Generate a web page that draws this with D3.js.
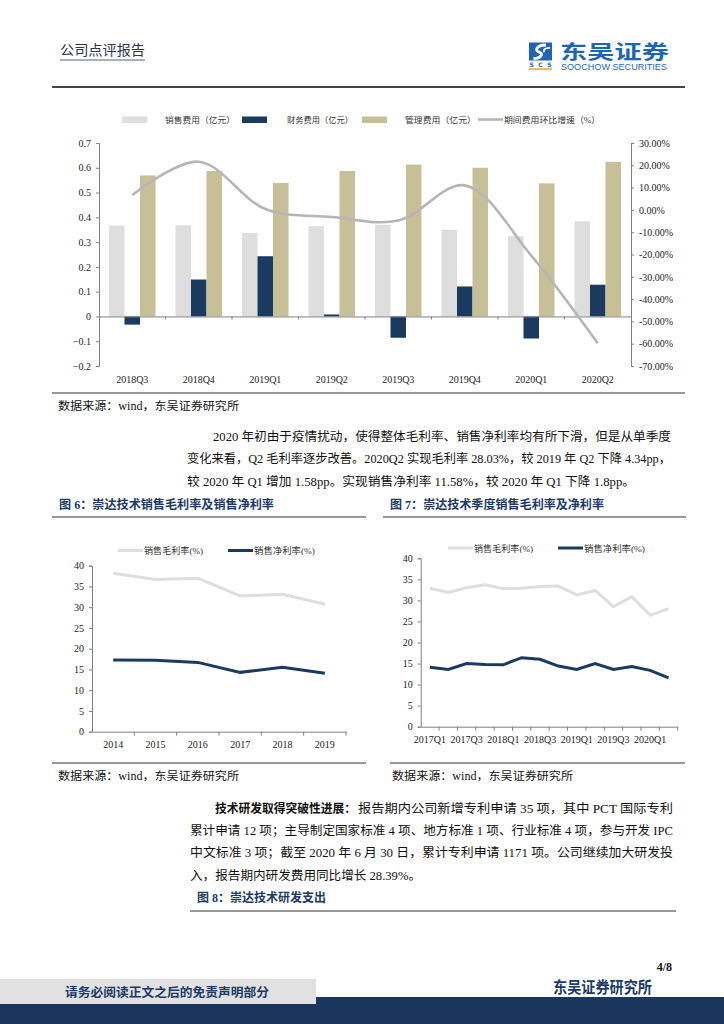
<!DOCTYPE html>
<html>
<head>
<meta charset="utf-8">
<script src="https://cdn.jsdelivr.net/npm/d3@7"></script>
<style>
  html, body { margin: 0; padding: 0; background: #fff; }
  svg { display: block; }
  text { font-family: "Liberation Serif", "Noto Sans CJK SC", serif; }
  .axis path, .axis line { stroke: #808080; }
  .axis text { font-size: 10px; fill: #222; }
</style>
</head>
<body>
<svg id="page" width="724" height="1024"></svg>
<script>
/* ---------------- DATA ---------------- */
const quarters8 = ["2018Q3", "2018Q4", "2019Q1", "2019Q2", "2019Q3", "2019Q4", "2020Q1", "2020Q2"];
const salesExp = [0.367, 0.368, 0.337, 0.364, 0.370, 0.350, 0.324, 0.384];
const financeExp = [-0.033, 0.149, 0.243, 0.008, -0.086, 0.121, -0.089, 0.128];
const adminExp = [0.569, 0.587, 0.539, 0.587, 0.613, 0.600, 0.537, 0.624];
const expenseQoq = [6.7, 21.6, 0.4, -3.2, -4.8, 11.0, -20.5, -59.8];
const leftTicks = [0.7, 0.6, 0.5, 0.4, 0.3, 0.2, 0.1, 0, -0.1, -0.2];
const rightTicks = [30, 20, 10, 0, -10, -20, -30, -40, -50, -60, -70];

const years = ["2014", "2015", "2016", "2017", "2018", "2019"];
const yearGross = [38.2, 36.7, 37.0, 32.7, 33.1, 30.7];
const yearNet = [17.3, 17.2, 16.7, 14.3, 15.5, 14.1];

const quarters14 = ["2017Q1", "2017Q2", "2017Q3", "2017Q4", "2018Q1", "2018Q2", "2018Q3",
  "2018Q4", "2019Q1", "2019Q2", "2019Q3", "2019Q4", "2020Q1", "2020Q2"];
const quarterGross = [32.9, 31.9, 33.0, 33.7, 32.8, 32.9, 33.3, 33.4, 31.3, 32.37, 28.5, 30.9, 26.45, 28.03];
const quarterNet = [14.1, 13.6, 15.0, 14.8, 14.7, 16.4, 16.0, 14.4, 13.6, 15.0, 13.6, 14.3, 13.38, 11.58];
const marginTicks = [0, 5, 10, 15, 20, 25, 30, 35, 40];

/* ---------------- COLOURS ---------------- */
const C_LIGHT = "#dedede";
const C_NAVY = "#1b3a5f";
const C_TAN = "#c6bf98";
const C_LINE = "#b6b6b6";
const C_HEAD = "#1c3a66";
const C_LOGO = "#1f65b3";

const svg = d3.select("#page");

/* helper: a line of text, optionally stretched to a width */
function txt(x, y, s, o = {}) {
  const t = svg.append("text")
    .attr("x", x).attr("y", y)
    .attr("font-size", o.size || 12.5)
    .attr("fill", o.fill || "#111")
    .attr("font-weight", o.weight || "normal")
    .attr("text-anchor", o.anchor || "start")
    .text(s);
  if (o.width) t.attr("textLength", o.width).attr("lengthAdjust", "spacingAndGlyphs");
  if (o.family) t.style("font-family", o.family);
  return t;
}
function rule(x1, x2, y, w = 1.2, c = "#333") {
  svg.append("line").attr("x1", x1).attr("x2", x2).attr("y1", y).attr("y2", y)
    .attr("stroke", c).attr("stroke-width", w);
}

/* ---------------- HEADER ---------------- */
txt(60, 55, "公司点评报告", { size: 13.5, fill: "#2a3550", width: 85 });
rule(60, 145, 60, 0.8, "#2a3550");

// logo
const logo = svg.append("g").attr("transform", "translate(529,42.5)");
logo.append("rect").attr("width", 23).attr("height", 18).attr("fill", C_LOGO);
logo.append("path").attr("d", "M17,2.5 C8,2.5 5,8 10,9.5 C15,11 12,16 4.5,16")
  .attr("fill", "none").attr("stroke", "#fff").attr("stroke-width", 2.8);
logo.append("path").attr("d", "M21,5.5 C16,5 13.5,8 15.5,9.5")
  .attr("fill", "none").attr("stroke", "#fff").attr("stroke-width", 1.8);
logo.append("text").attr("x", 11.5).attr("y", 24.5).attr("text-anchor", "middle")
  .attr("font-size", 6).attr("font-weight", "bold").attr("fill", C_LOGO)
  .style("font-family", "DejaVu Sans").attr("textLength", 22).text("SCS");
logo.append("rect").attr("y", 25.8).attr("width", 23).attr("height", 1.5).attr("fill", "#f0a030");
txt(560, 58.5, "东吴证券", { size: 19, weight: "bold", fill: C_LOGO, width: 109, family: "Noto Sans CJK SC" });
txt(561, 70, "SOOCHOW SECURITIES", { size: 8.6, fill: C_LOGO, width: 106, family: "Liberation Sans" });

rule(52, 685, 87, 2, "#444");

/* ---------------- CHART 1: EXPENSES ---------------- */
const x1 = d3.scaleBand().domain(quarters8).range([99, 631]);
const inner = d3.scaleBand().domain(["s", "f", "a"]).range([10, x1.bandwidth() - 10]);
const yL = d3.scaleLinear().domain([-0.2, 0.7]).range([366, 143]);
const yR = d3.scaleLinear().domain([-70, 30]).range([366, 143]);

// legend
const lg = svg.append("g").attr("font-size", 8.5);
const legendItems = [
  { kind: "rect", c: C_LIGHT, x: 122, tx: 165, label: "销售费用（亿元）", w: 70 },
  { kind: "rect", c: C_NAVY, x: 242, tx: 287, label: "财务费用（亿元）", w: 66 },
  { kind: "rect", c: C_TAN, x: 362, tx: 405, label: "管理费用（亿元）", w: 71 },
  { kind: "line", c: C_LINE, x: 478, tx: 504, label: "期间费用环比增速（%）", w: 96 }
];
legendItems.forEach(d => {
  if (d.kind === "rect") {
    lg.append("rect").attr("x", d.x).attr("y", 116.5).attr("width", 25).attr("height", 6.5).attr("fill", d.c);
  } else {
    lg.append("line").attr("x1", d.x).attr("x2", d.x + 25).attr("y1", 119.5).attr("y2", 119.5)
      .attr("stroke", d.c).attr("stroke-width", 2.6);
  }
  lg.append("text").attr("x", d.tx).attr("y", 122.5).attr("fill", "#333")
    .attr("textLength", d.w).attr("lengthAdjust", "spacingAndGlyphs").text(d.label);
});

// axes
svg.append("g").attr("class", "axis").attr("transform", "translate(99,0)")
  .call(d3.axisLeft(yL).tickValues(leftTicks).tickSize(3).tickPadding(5)
    .tickFormat(d => d === 0 ? "0" : d3.format(".1f")(d)));
svg.append("g").attr("class", "axis").attr("transform", "translate(631,0)")
  .call(d3.axisRight(yR).tickValues(rightTicks).tickSize(3).tickPadding(5)
    .tickFormat(d => d.toFixed(2) + "%"));

// bars
const bars = svg.append("g");
const series = [
  { key: "s", vals: salesExp, c: C_LIGHT },
  { key: "f", vals: financeExp, c: C_NAVY },
  { key: "a", vals: adminExp, c: C_TAN }
];
series.forEach(s => {
  bars.selectAll(null).data(quarters8).enter().append("rect")
    .attr("x", (d, i) => x1(d) + inner(s.key))
    .attr("width", inner.bandwidth())
    .attr("y", (d, i) => yL(Math.max(0, s.vals[i])))
    .attr("height", (d, i) => Math.abs(yL(s.vals[i]) - yL(0)))
    .attr("fill", s.c);
});

// zero line + category ticks
const xAxis1 = svg.append("g").attr("class", "axis").attr("transform", `translate(0,${yL(0)})`)
  .call(d3.axisBottom(x1).tickSize(0).tickFormat(""));
xAxis1.selectAll(null).data(quarters8.slice(1)).enter().append("line")
  .attr("x1", d => x1(d)).attr("x2", d => x1(d)).attr("y1", 0).attr("y2", 3)
  .attr("stroke", "#808080");
svg.append("g").attr("class", "axis").attr("transform", "translate(0,366)")
  .call(d3.axisBottom(x1).tickSize(0).tickPadding(10))
  .call(g => g.select(".domain").remove());

// growth line
svg.append("path")
  .datum(quarters8)
  .attr("fill", "none").attr("stroke", C_LINE).attr("stroke-width", 2.6)
  .attr("d", d3.line()
    .x(d => x1(d) + x1.bandwidth() / 2)
    .y((d, i) => yR(expenseQoq[i]))
    .curve(d3.curveCatmullRom.alpha(0.5)));

rule(52, 685, 393, 1.2, "#333");
txt(58, 410, "数据来源：wind，东吴证券研究所", { size: 11.5, width: 181 });

/* ---------------- PARAGRAPH 1 ---------------- */
txt(213, 441, "2020 年初由于疫情扰动，使得整体毛利率、销售净利率均有所下滑，但是从单季度", { width: 458 });
txt(187, 463, "变化来看，Q2 毛利率逐步改善。2020Q2 实现毛利率 28.03%，较 2019 年 Q2 下降 4.34pp，", { width: 484 });
txt(187, 486, "较 2020 年 Q1 增加 1.58pp。实现销售净利率 11.58%，较 2020 年 Q1 下降 1.8pp。", { width: 448 });

txt(59, 509, "图 6：崇达技术销售毛利率及销售净利率", { size: 12, weight: "bold", fill: C_HEAD, width: 215 });
txt(390, 509, "图 7：崇达技术季度销售毛利率及净利率", { size: 12, weight: "bold", fill: C_HEAD, width: 214 });
rule(52, 366, 517, 1.2, "#333");
rule(383, 686, 517, 1.2, "#333");

/* ---------------- small line charts ---------------- */
function marginChart(cats, gross, net, xr, yr, opts) {
  const x = d3.scaleBand().domain(cats).range(xr);
  const y = d3.scaleLinear().domain([0, 40]).range(yr);
  const cx = d => x(d) + x.bandwidth() / 2;

  // legend
  const lgd = svg.append("g").attr("font-size", 9);
  lgd.append("line").attr("x1", opts.lx[0]).attr("x2", opts.lx[0] + 25).attr("y1", opts.ly).attr("y2", opts.ly)
    .attr("stroke", C_LIGHT).attr("stroke-width", 3);
  lgd.append("text").attr("x", opts.lx[0] + 26).attr("y", opts.ly + 3.5).attr("fill", "#333")
    .attr("textLength", 59).attr("lengthAdjust", "spacingAndGlyphs").text("销售毛利率(%)");
  lgd.append("line").attr("x1", opts.lx[1]).attr("x2", opts.lx[1] + 25).attr("y1", opts.ly).attr("y2", opts.ly)
    .attr("stroke", C_NAVY).attr("stroke-width", 3);
  lgd.append("text").attr("x", opts.lx[1] + 26).attr("y", opts.ly + 3.5).attr("fill", "#333")
    .attr("textLength", 61).attr("lengthAdjust", "spacingAndGlyphs").text("销售净利率(%)");

  svg.append("g").attr("class", "axis").attr("transform", `translate(${xr[0]},0)`)
    .call(d3.axisLeft(y).tickValues(marginTicks).tickSize(3).tickPadding(5))
    .selectAll("text").attr("font-size", 11);

  const xa = svg.append("g").attr("class", "axis").attr("transform", `translate(0,${yr[0]})`)
    .call(d3.axisBottom(x).tickSize(0).tickPadding(9)
      .tickFormat((d, i) => (i % opts.every === 0 ? d : "")));
  xa.selectAll("text").attr("font-size", opts.fs);
  xa.selectAll(null).data(cats.slice(1).concat(["end"])).enter().append("line")
    .attr("x1", d => d === "end" ? xr[1] : x(d)).attr("x2", d => d === "end" ? xr[1] : x(d))
    .attr("y1", 0).attr("y2", 4).attr("stroke", "#808080");

  const line = vals => d3.line().x(d => cx(d)).y((d, i) => y(vals[i]));
  svg.append("path").datum(cats).attr("fill", "none").attr("stroke", C_LIGHT)
    .attr("stroke-width", 3).attr("d", line(gross));
  svg.append("path").datum(cats).attr("fill", "none").attr("stroke", C_NAVY)
    .attr("stroke-width", 3).attr("d", line(net));
}

marginChart(years, yearGross, yearNet, [92, 346], [731.7, 565.7],
  { lx: [118, 228], ly: 550.5, every: 1, fs: 10.5 });
marginChart(quarters14, quarterGross, quarterNet, [420.7, 677.7], [726.7, 558.3],
  { lx: [448, 558], ly: 548, every: 2, fs: 10.5 });

rule(52, 366, 763, 1.2, "#333");
rule(390, 685, 763, 1.2, "#333");
txt(58, 780, "数据来源：wind，东吴证券研究所", { size: 11.5, width: 181 });
txt(392, 780, "数据来源：wind，东吴证券研究所", { size: 11.5, width: 181 });

/* ---------------- PARAGRAPH 2 ---------------- */
txt(215, 813, "技术研发取得突破性进展：", { weight: "bold", width: 141 });
txt(358, 813, "报告期内公司新增专利申请 35 项，其中 PCT 国际专利", { width: 315 });
txt(190, 835, "累计申请 12 项；主导制定国家标准 4 项、地方标准 1 项、行业标准 4 项，参与开发 IPC", { width: 483 });
txt(190, 857, "中文标准 3 项；截至 2020 年 6 月 30 日，累计专利申请 1171 项。公司继续加大研发投", { width: 483 });
txt(190, 880, "入，报告期内研发费用同比增长 28.39%。", { width: 231 });
txt(197, 902, "图 8：崇达技术研发支出", { size: 12, weight: "bold", fill: C_HEAD, width: 129 });
rule(190, 676, 911, 1.2, "#333");

/* ---------------- FOOTER ---------------- */
txt(672, 971, "4/8", { size: 12, weight: "bold", anchor: "end" });
txt(553, 993, "东吴证券研究所", { size: 15.5, weight: "bold", fill: C_HEAD, width: 99 });
svg.append("rect").attr("x", 316).attr("y", 997).attr("width", 408).attr("height", 27).attr("fill", "#1a365d");
svg.append("rect").attr("x", 0).attr("y", 1004).attr("width", 724).attr("height", 20).attr("fill", "#1a365d");
svg.append("rect").attr("x", 0).attr("y", 979).attr("width", 316).attr("height", 25).attr("fill", "#e1e1e1");
txt(65, 997, "请务必阅读正文之后的免责声明部分", { size: 12.5, weight: "bold", fill: C_HEAD, width: 204 });
</script>
</body>
</html>
